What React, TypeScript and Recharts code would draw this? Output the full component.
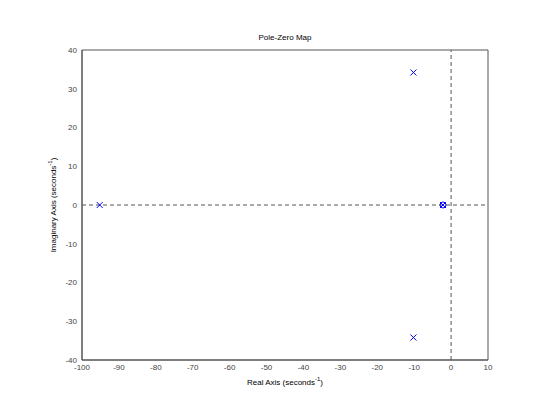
import {
  ScatterChart,
  Scatter,
  XAxis,
  YAxis,
  ReferenceLine,
} from 'recharts'

const xTicks = [-100, -90, -80, -70, -60, -50, -40, -30, -20, -10, 0, 10]
const yTicks = [-40, -30, -20, -10, 0, 10, 20, 30, 40]

// poles (x markers) and zeros (o markers)
const poleReal = [-95.2, -10.2, -10.2, -2.2]
const poleImag = [0, 34.2, -34.2, 0]
const zeroReal = [-2.2]
const zeroImag = [0]

const poles = poleReal.map((re, i) => ({ re, im: poleImag[i] }))
const zeros = zeroReal.map((re, i) => ({ re, im: zeroImag[i] }))

const font = '"Liberation Sans", Arial, sans-serif'
const axisColor = '#555555'

function Cross(props: any) {
  const { cx, cy } = props
  const r = 3
  return (
    <g stroke="#0000ff" strokeWidth={1}>
      <line x1={cx - r} y1={cy - r} x2={cx + r} y2={cy + r} />
      <line x1={cx - r} y1={cy + r} x2={cx + r} y2={cy - r} />
    </g>
  )
}

function Ring(props: any) {
  const { cx, cy } = props
  return <circle cx={cx} cy={cy} r={3} fill="none" stroke="#0000ff" strokeWidth={1} />
}

const xCommon = {
  dataKey: 're',
  type: 'number' as const,
  domain: [-100, 10],
  ticks: xTicks,
  interval: 0 as const,
  stroke: axisColor,
}
const yCommon = {
  dataKey: 'im',
  type: 'number' as const,
  domain: [-40, 40],
  ticks: yTicks,
  interval: 0 as const,
  stroke: axisColor,
}

export default function App() {
  return (
    <div style={{ position: 'absolute', left: 0, top: 0, width: 539, height: 404, background: '#fff' }}>
      <ScatterChart
        width={539}
        height={404}
        margin={{ top: 50, right: 51, left: 42, bottom: 14 }}
        style={{ fontFamily: font }}
      >
        {/* labelled axes */}
        <XAxis
          {...xCommon}
          xAxisId="b"
          height={30}
          tickLine={false}
          tickSize={0}
          tickMargin={4}
          tick={{ fontSize: 8, fill: '#444', fontFamily: font }}
          label={{
            content: (p: any) => {
              const vb = p.viewBox
              const cx = vb.x + vb.width / 2
              return (
                <text x={cx} y={385} textAnchor="middle" fontSize={8} fill="#000" fontFamily={font}>
                  Real Axis (seconds
                  <tspan dy={-4} fontSize={6}>-1</tspan>
                  <tspan dy={4}>)</tspan>
                </text>
              )
            },
          }}
        />
        <YAxis
          {...yCommon}
          yAxisId="l"
          width={40}
          tickLine={false}
          tickSize={0}
          tickMargin={5}
          tick={{ fontSize: 8, fill: '#444', fontFamily: font }}
          label={{
            content: (p: any) => {
              const vb = p.viewBox
              const cy = vb.y + vb.height / 2
              return (
                <text
                  x={56}
                  y={cy}
                  transform={`rotate(-90 56 ${cy})`}
                  textAnchor="middle"
                  fontSize={8}
                  fill="#000"
                  fontFamily={font}
                >
                  Imaginary Axis (seconds
                  <tspan dy={-4} fontSize={6}>-1</tspan>
                  <tspan dy={4}>)</tspan>
                </text>
              )
            },
          }}
        />
        {/* mirrored axes: box frame with inward ticks */}
        <XAxis {...xCommon} xAxisId="bm" mirror tickSize={5} tick={false} />
        <XAxis {...xCommon} xAxisId="tm" orientation="top" mirror tickSize={5} tick={false} />
        <YAxis {...yCommon} yAxisId="lm" mirror tickSize={5} tick={false} />
        <YAxis {...yCommon} yAxisId="rm" orientation="right" mirror tickSize={5} tick={false} />

        <ReferenceLine xAxisId="b" yAxisId="l" y={0} stroke={axisColor} strokeDasharray="4 3" />
        <ReferenceLine xAxisId="b" yAxisId="l" x={0} stroke={axisColor} strokeDasharray="4 3" />
        <Scatter xAxisId="b" yAxisId="l" data={poles} shape={Cross} isAnimationActive={false} />
        <Scatter xAxisId="b" yAxisId="l" data={zeros} shape={Ring} isAnimationActive={false} />
        <text x={285} y={40} textAnchor="middle" fontSize={8} fill="#000" fontFamily={font}>
          Pole-Zero Map
        </text>
      </ScatterChart>
    </div>
  )
}
